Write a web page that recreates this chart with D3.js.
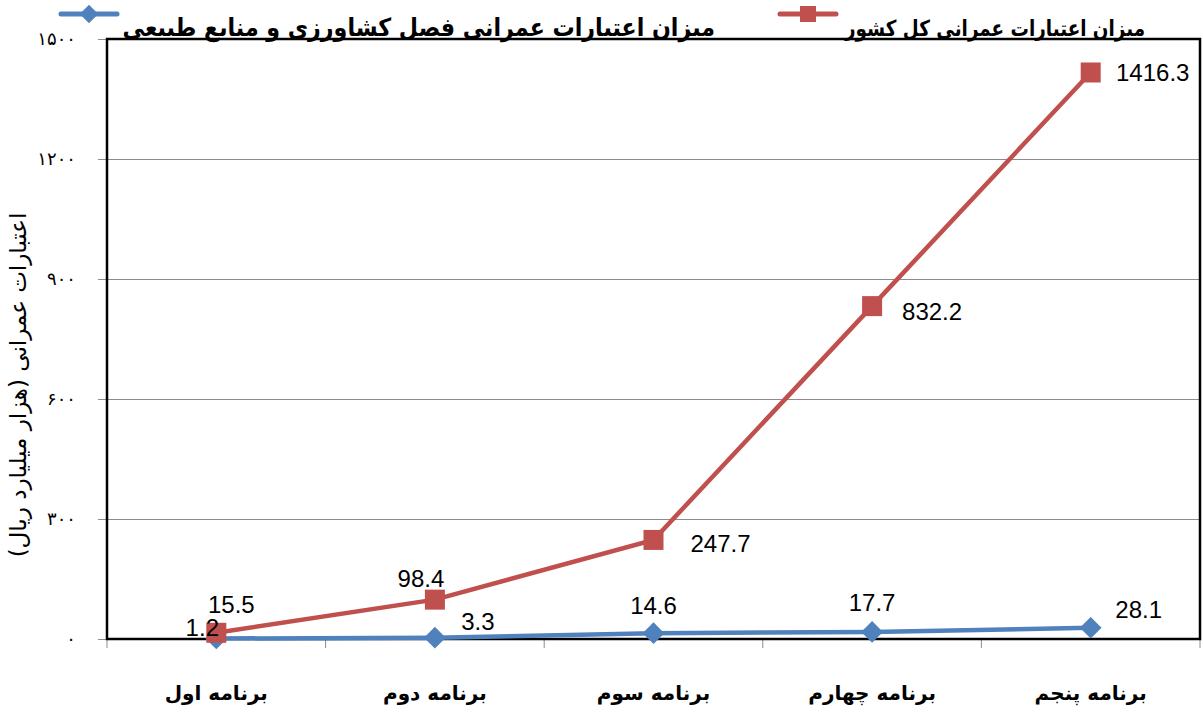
<!DOCTYPE html>
<html>
<head>
<meta charset="utf-8">
<script src="https://cdn.jsdelivr.net/npm/d3@7"></script>
<style>
  body { margin: 0; background: #fff; }
  svg { display: block; }
</style>
</head>
<body>
<svg id="chart" width="1203" height="713"></svg>
<script>
// chart data
var categories = ['برنامه اول', 'برنامه دوم', 'برنامه سوم', 'برنامه چهارم', 'برنامه پنجم'];
var totalValues = [15.5, 98.4, 247.7, 832.2, 1416.3];
var agriValues = [1.2, 3.3, 14.6, 17.7, 28.1];
var yTicks = [0, 300, 600, 900, 1200, 1500];
var totalName = 'میزان اعتبارات عمرانی کل کشور';
var agriName = 'میزان اعتبارات عمرانی فصل کشاورزی و منابع طبیعی';
var yTitle = 'اعتبارات عمرانی (هزار میلیارد ریال)';

// label placement (offsets from point, like excel put them)
var totalLabelDx = [15, -14, 67, 60, 62];
var totalLabelDy = [-20, -13, 12, 14, 9];
var agriLabelDx = [-14, 43, 0, 0, 48];
var agriLabelDy = [-3, -8, -19, -21, -10];

var red = '#C0504D';
var blue = '#4F81BD';

var margins = { left: 107, right: 3, top: 39, bottom: 73 };
var width = 1203, height = 713;

var svg = d3.select('#chart');

var xScale = d3.scaleBand()
  .domain(categories)
  .range([margins.left, width - margins.right])
  .padding(0);
var yScale = d3.scaleLinear()
  .domain([0, 1500])
  .range([height - margins.bottom - 1, margins.top]);

var persian = function(n) {
  return String(n).replace(/\d/g, function(c) { return '۰۱۲۳۴۵۶۷۸۹'[+c]; });
};

// gridlines
svg.append('g')
  .selectAll('line')
  .data(yTicks.filter(function(d) { return d > 0 && d < 1500; }))
  .enter().append('line')
  .attr('x1', margins.left).attr('x2', width - margins.right)
  .attr('y1', function(d) { return Math.round(yScale(d)) + 0.5; })
  .attr('y2', function(d) { return Math.round(yScale(d)) + 0.5; })
  .attr('stroke', '#8c8c8c').attr('stroke-width', 1);

// y axis
var yAxis = svg.append('g')
  .attr('transform', 'translate(' + margins.left + ',0)')
  .call(d3.axisLeft(yScale).tickValues(yTicks).tickSize(9).tickPadding(22).tickFormat(persian));
yAxis.select('.domain').remove();
yAxis.selectAll('.tick line').attr('stroke', '#8c8c8c');
yAxis.selectAll('.tick text')
  .attr('font-family', 'DejaVu Sans')
  .attr('font-size', 18)
  .attr('fill', '#000');

// x axis ticks at band boundaries
var xBounds = categories.map(function(c) { return xScale(c); }).concat([width - margins.right]);
svg.append('g')
  .selectAll('line')
  .data(xBounds)
  .enter().append('line')
  .attr('x1', function(d) { return d; }).attr('x2', function(d) { return d; })
  .attr('y1', yScale(0)).attr('y2', yScale(0) + 9)
  .attr('stroke', '#8c8c8c').attr('stroke-width', 1);

// plot frame
svg.append('rect')
  .attr('x', margins.left).attr('y', margins.top)
  .attr('width', width - margins.right - margins.left)
  .attr('height', yScale(0) - margins.top)
  .attr('fill', 'none').attr('stroke', '#000').attr('stroke-width', 2.5);

// category labels
svg.append('g')
  .selectAll('text')
  .data(categories)
  .enter().append('text')
  .attr('x', function(d) { return xScale(d) + xScale.bandwidth() / 2; })
  .attr('y', 700)
  .attr('text-anchor', 'middle')
  .attr('direction', 'rtl')
  .attr('font-family', 'DejaVu Sans')
  .attr('font-weight', 'bold')
  .attr('font-size', 20)
  .text(function(d) { return d; });

// y title
svg.append('text')
  .attr('transform', 'translate(26,385) rotate(-90)')
  .attr('text-anchor', 'middle')
  .attr('direction', 'rtl')
  .attr('font-family', 'DejaVu Sans')
  .attr('font-size', 23)
  .text(yTitle);

var cx = function(d, i) { return xScale(categories[i]) + xScale.bandwidth() / 2; };

var line = d3.line()
  .x(function(d, i) { return cx(d, i); })
  .y(function(d) { return yScale(d); });

// total series
svg.append('path')
  .datum(totalValues)
  .attr('d', line)
  .attr('fill', 'none').attr('stroke', red).attr('stroke-width', 4.5);

// agri series
svg.append('path')
  .datum(agriValues)
  .attr('d', line)
  .attr('fill', 'none').attr('stroke', blue).attr('stroke-width', 4.5);

var diamond = d3.symbol().type(d3.symbolDiamond2).size(300);

svg.append('g')
  .selectAll('path')
  .data(agriValues)
  .enter().append('path')
  .attr('d', diamond)
  .attr('transform', function(d, i) { return 'translate(' + cx(d, i) + ',' + yScale(d) + ')'; })
  .attr('fill', blue);

svg.append('g')
  .selectAll('rect')
  .data(totalValues)
  .enter().append('rect')
  .attr('x', function(d, i) { return cx(d, i) - 10; })
  .attr('y', function(d) { return yScale(d) - 10; })
  .attr('width', 20).attr('height', 20)
  .attr('fill', red);

// value labels
function drawLabels(values, dxs, dys) {
  svg.append('g')
    .selectAll('text')
    .data(values)
    .enter().append('text')
    .attr('x', function(d, i) { return cx(d, i) + dxs[i]; })
    .attr('y', function(d, i) { return yScale(d) + dys[i]; })
    .attr('text-anchor', 'middle')
    .attr('font-family', 'Liberation Sans, Arial')
    .attr('font-size', 24)
    .attr('fill', '#000')
    .text(function(d) { return d; });
}
drawLabels(agriValues, agriLabelDx, agriLabelDy);
drawLabels(totalValues, totalLabelDx, totalLabelDy);

// legend
function legendItem(x, y, color, name, textRight, textWidth, fontSize, marker) {
  var g = svg.append('g');
  g.append('line')
    .attr('x1', x - 28).attr('x2', x + 28)
    .attr('y1', y).attr('y2', y)
    .attr('stroke', color).attr('stroke-width', 5).attr('stroke-linecap', 'round');
  if (marker === 'square') {
    g.append('rect')
      .attr('x', x - 8).attr('y', y - 8).attr('width', 16).attr('height', 16)
      .attr('fill', color);
  } else {
    g.append('path')
      .attr('d', d3.symbol().type(d3.symbolDiamond2).size(220))
      .attr('transform', 'translate(' + x + ',' + y + ')')
      .attr('fill', color);
  }
  var t = g.append('text')
    .attr('x', 0).attr('y', 0)
    .attr('text-anchor', 'end')
    .attr('font-family', 'DejaVu Sans')
    .attr('font-weight', 'bold')
    .attr('font-size', fontSize)
    .text(name);
  // squeeze horizontally to the width the original legend has
  var natural = t.node().getComputedTextLength();
  var k = Math.min(1, textWidth / natural);
  t.attr('transform', 'translate(' + textRight + ',36) scale(' + k + ',1)');
}
legendItem(89, 14, blue, agriName, 715, 593, 25, 'diamond');
legendItem(808, 14, red, totalName, 1145, 300, 22, 'square');
</script>
</body>
</html>
